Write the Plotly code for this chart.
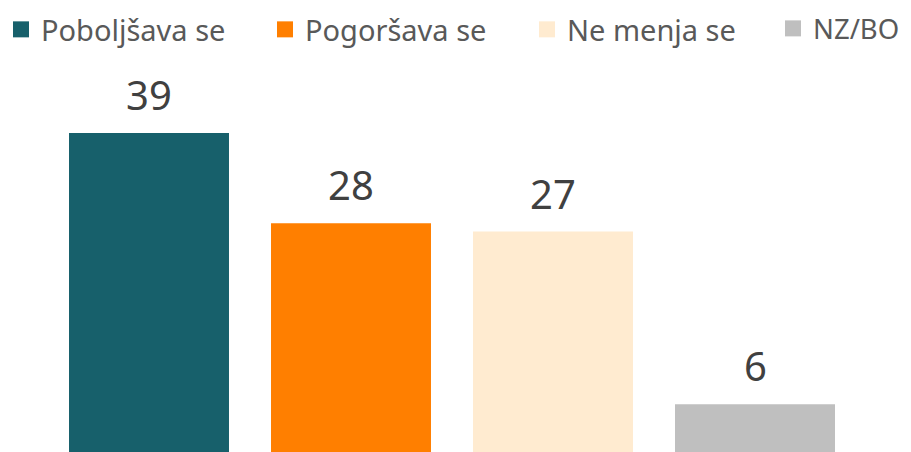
import plotly.graph_objects as go

categories = ["Poboljšava se", "Pogoršava se", "Ne menja se", "NZ/BO"]
values = [39, 28, 27, 6]
colors = ["#17606B", "#FF7F00", "#FFEBD0", "#BFBFBF"]
legend_x_px = [0, 257, 519, 765]
legend_indent = [-7, 0, 0, 0]
legend_font_size = [29, 29, 29, 27.5]

FONT = "Noto Sans"
W, H = 911, 452
M_L, M_R, M_T, M_B = 40, 63, 52, 8
PLOT_W, PLOT_H = W - M_L - M_R, H - M_T - M_B
LEGEND_TOP_PX = -4

fig = go.Figure()
fig.add_trace(go.Bar(
    x=categories, y=values,
    marker=dict(color=colors, line=dict(width=0)),
    showlegend=False, hoverinfo="skip",
))
legend_names = ["legend", "legend2", "legend3", "legend4"]
for c, col, ln in zip(categories, colors, legend_names):
    fig.add_trace(go.Scatter(
        x=[None], y=[None], mode="markers", name=c, legend=ln,
        marker=dict(symbol="square", size=16, color=col),
    ))

for c, v in zip(categories, values):
    fig.add_annotation(x=c, y=v, text=str(v), showarrow=False,
                       yanchor="bottom", yshift=9,
                       font=dict(family=FONT, size=40, color="#404040"))

layout_legends = {}
for ln, px, ind, fs in zip(legend_names, legend_x_px, legend_indent, legend_font_size):
    layout_legends[ln] = dict(
        orientation="h", xref="paper", yref="paper",
        xanchor="left", yanchor="top",
        x=(px - M_L) / PLOT_W, y=1 + (M_T - LEGEND_TOP_PX) / PLOT_H,
        indentation=ind, bgcolor="rgba(0,0,0,0)",
        font=dict(family=FONT, size=fs, color="#595959"),
        itemsizing="trace")

fig.update_layout(
    width=W, height=H,
    margin=dict(l=M_L, r=M_R, t=M_T, b=M_B, autoexpand=False),
    paper_bgcolor="white", plot_bgcolor="white",
    bargap=0.208,
    xaxis=dict(visible=False),
    yaxis=dict(visible=False, range=[0.18, 47.87]),
    **layout_legends,
)
fig.write_html("out.html")
